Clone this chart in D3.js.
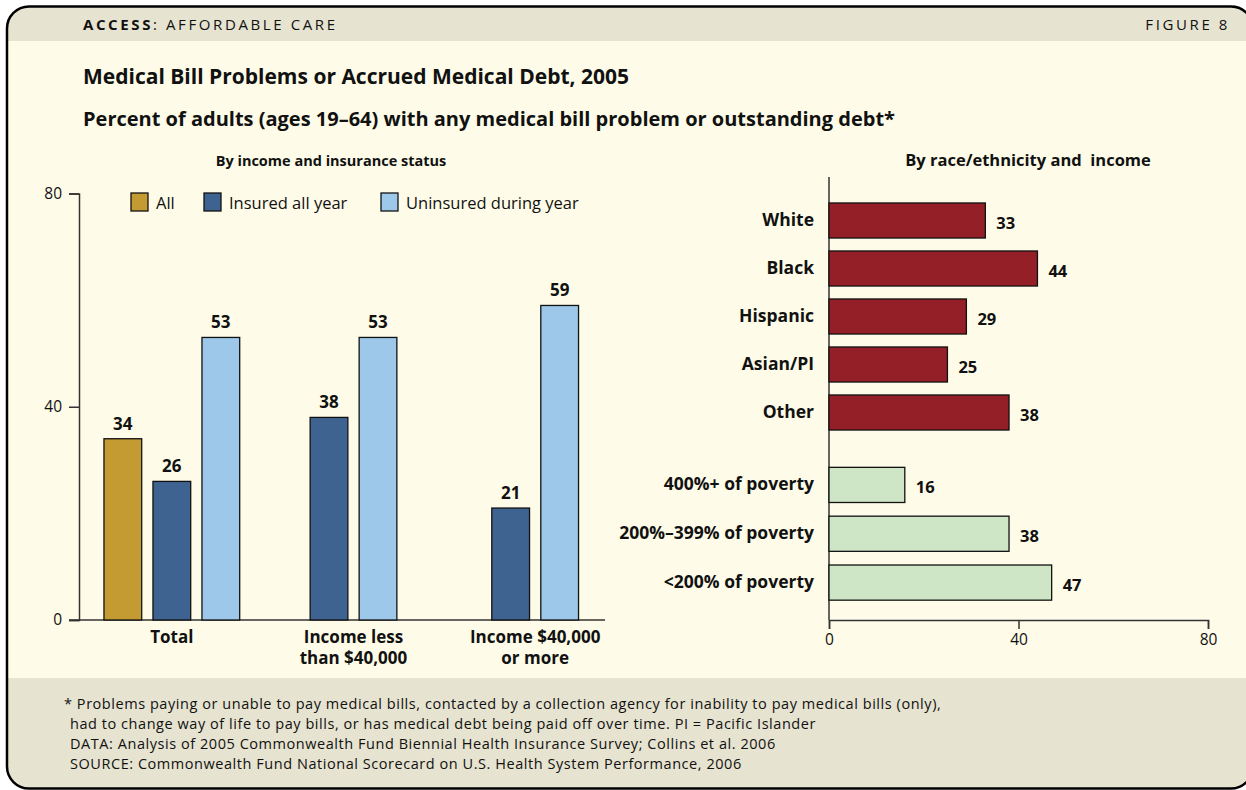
<!DOCTYPE html>
<html lang="en">
<head>
  <meta charset="UTF-8">
  <title>Medical Bill Problems</title>
  <style>
    body, html {
      margin: 0;
      padding: 0;
      background-color: #ffffff;
      overflow: hidden;
    }
    svg text {
      font-family: "Open Sans", Lato, sans-serif;
      fill: #111;
    }
  </style>
</head>
<body>
  <svg id="svg" width="1246" height="790"></svg>
  <script src="https://d3js.org/d3.v7.min.js"></script>
  <script>
    // left panel data
    const groups = ['Total', 'Income less than $40,000', 'Income $40,000 or more']
    const groupLines = [['Total'], ['Income less', 'than $40,000'], ['Income $40,000', 'or more']]
    const seriesNames = ['All', 'Insured all year', 'Uninsured during year']
    const allValues = [34, null, null]
    const insuredValues = [26, 38, 21]
    const uninsuredValues = [53, 53, 59]

    // right panel data
    const raceCats = ['White', 'Black', 'Hispanic', 'Asian/PI', 'Other']
    const raceValues = [33, 44, 29, 25, 38]
    const incomeCats = ['400%+ of poverty', '200%\u2013399% of poverty', '<200% of poverty']
    const incomeValues = [16, 38, 47]

    const yTicks = [0, 40, 80]
    const footnotes = [
      '* Problems paying or unable to pay medical bills, contacted by a collection agency for inability to pay medical bills (only),',
      'had to change way of life to pay bills, or has medical debt being paid off over time. PI = Pacific Islander',
      'DATA: Analysis of 2005 Commonwealth Fund Biennial Health Insurance Survey; Collins et al. 2006',
      'SOURCE: Commonwealth Fund National Scorecard on U.S. Health System Performance, 2006'
    ]

    const colors = ['#c49a32', '#3f6391', '#9dc8ea']
    const svg = d3.select('#svg')

    // frame
    svg.append('defs').append('clipPath').attr('id', 'frame')
      .append('rect').attr('x', 7).attr('y', 6.5).attr('width', 1246).attr('height', 782).attr('rx', 22)
    const frame = svg.append('g').attr('clip-path', 'url(#frame)')
    frame.append('rect').attr('x', 0).attr('y', 0).attr('width', 1260).attr('height', 800).attr('fill', '#fefce8')
    frame.append('rect').attr('x', 0).attr('y', 0).attr('width', 1260).attr('height', 41).attr('fill', '#e6e3d0')
    frame.append('rect').attr('x', 0).attr('y', 678).attr('width', 1260).attr('height', 130).attr('fill', '#e6e3d0')
    svg.append('rect').attr('x', 7).attr('y', 6.5).attr('width', 1246).attr('height', 782).attr('rx', 22)
      .attr('fill', 'none').attr('stroke', '#000').attr('stroke-width', 2.5)

    // header
    const head = svg.append('text').attr('x', 83).attr('y', 30)
      .style('font-size', '15px').style('letter-spacing', '2.6px')
    head.append('tspan').text('ACCESS').style('font-weight', 'bold')
    head.append('tspan').text(': AFFORDABLE CARE')
    svg.append('text').attr('x', 1230).attr('y', 30).attr('text-anchor', 'end')
      .style('font-size', '15px').style('letter-spacing', '2.6px').text('FIGURE 8')

    svg.append('text').attr('x', 83).attr('y', 84)
      .style('font-size', '21px').style('font-weight', 'bold')
      .text('Medical Bill Problems or Accrued Medical Debt, 2005')
    svg.append('text').attr('x', 83).attr('y', 126)
      .style('font-size', '20px').style('font-weight', 'bold')
      .text('Percent of adults (ages 19\u201364) with any medical bill problem or outstanding debt*')

    // ---- left chart ----
    const yScale = d3.scaleLinear().domain([0, 80]).range([620, 193.5])
    const groupScale = d3.scaleBand().domain(groups).range([81, 626])

    svg.append('text').attr('x', 331).attr('y', 166).attr('text-anchor', 'middle')
      .style('font-size', '14.5px').style('font-weight', 'bold').text('By income and insurance status')

    const leftAxis = d3.axisLeft(yScale).tickValues(yTicks).tickSize(10)
    const la = svg.append('g').attr('transform', 'translate(79,0)').call(leftAxis)
    la.selectAll('path, line').attr('stroke', '#333').attr('stroke-width', 1.5)
    la.selectAll('text').style('font-size', '15.5px').attr('x', -17).attr('fill', '#111')

    svg.append('line').attr('x1', 69).attr('x2', 605).attr('y1', 620).attr('y2', 620)
      .attr('stroke', '#333').attr('stroke-width', 1.5)

    const barData = []
    groups.forEach((g, i) => {
      const vals = [allValues[i], insuredValues[i], uninsuredValues[i]]
      const present = seriesNames.filter((s, j) => vals[j] !== null)
      const inner = d3.scaleBand().domain(present)
        .range([-present.length * 24.5, present.length * 24.5]).paddingInner(0.23).paddingOuter(0.115)
      seriesNames.forEach((s, j) => {
        if (vals[j] === null) return
        barData.push({ g, s, v: vals[j], c: colors[j],
          x: groupScale(g) + groupScale.bandwidth() / 2 + inner(s), w: inner.bandwidth() })
      })
    })

    svg.append('g').selectAll('rect').data(barData).enter().append('rect')
      .attr('x', d => d.x)
      .attr('y', d => yScale(d.v))
      .attr('width', d => d.w)
      .attr('height', d => yScale(0) - yScale(d.v))
      .attr('fill', d => d.c)
      .attr('stroke', '#111')
      .attr('stroke-width', 1.3)
    svg.append('g').selectAll('text').data(barData).enter().append('text')
      .attr('x', d => d.x + d.w / 2)
      .attr('y', d => yScale(d.v) - 9)
      .attr('text-anchor', 'middle')
      .style('font-size', '17px').style('font-weight', 'bold')
      .text(d => d3.format('d')(d.v))

    const labelRows = []
    groups.forEach((g, i) => {
      groupLines[i].forEach((line, k) => labelRows.push({ g, line, k }))
    })
    svg.append('g').selectAll('text').data(labelRows).enter().append('text')
      .attr('x', d => groupScale(d.g) + groupScale.bandwidth() / 2)
      .attr('y', d => 643 + d.k * 21)
      .attr('text-anchor', 'middle')
      .style('font-size', '17px').style('font-weight', 'bold')
      .text(d => d.line)

    // legend
    const legendX = [131, 204, 381]
    const legend = svg.append('g').selectAll('g').data(seriesNames).enter().append('g')
      .attr('transform', (d, i) => `translate(${legendX[i]},193)`)
    legend.append('rect').attr('width', 17).attr('height', 18)
      .attr('fill', (d, i) => colors[i]).attr('stroke', '#111').attr('stroke-width', 1.3)
    legend.append('text').attr('x', 25).attr('y', 16).style('font-size', '16.5px').text(d => d)

    // ---- right chart ----
    const xScale = d3.scaleLinear().domain([0, 80]).range([829, 1208])
    const raceScale = d3.scaleBand().domain(raceCats).range([196.5, 436.5]).paddingInner(0.27).paddingOuter(0.135)
    const incomeScale = d3.scaleBand().domain(incomeCats).range([460.5, 607]).paddingInner(0.28).paddingOuter(0.14)

    svg.append('text').attr('x', 1028).attr('y', 166).attr('text-anchor', 'middle')
      .style('font-size', '16.5px').style('font-weight', 'bold').style('white-space', 'pre')
      .text('By race/ethnicity and  income')

    const bottomAxis = d3.axisBottom(xScale).tickValues(yTicks).tickSize(9)
    const ba = svg.append('g').attr('transform', 'translate(0,620)').call(bottomAxis)
    ba.selectAll('path, line').attr('stroke', '#333').attr('stroke-width', 1.5)
    ba.selectAll('text').style('font-size', '15.5px').attr('y', 14).attr('fill', '#111')

    svg.append('line').attr('x1', 829).attr('x2', 829).attr('y1', 177).attr('y2', 620)
      .attr('stroke', '#333').attr('stroke-width', 1.5)

    function hbars(cats, vals, band, fill) {
      const rows = cats.map((c, i) => ({ c, v: vals[i] }))
      const g = svg.append('g')
      g.selectAll('rect').data(rows).enter().append('rect')
        .attr('x', xScale(0))
        .attr('y', d => band(d.c))
        .attr('width', d => xScale(d.v) - xScale(0))
        .attr('height', band.bandwidth())
        .attr('fill', fill)
        .attr('stroke', '#111')
        .attr('stroke-width', 1.3)
      g.selectAll('.val').data(rows).enter().append('text')
        .attr('x', d => xScale(d.v) + 11)
        .attr('y', d => band(d.c) + band.bandwidth() / 2 + 8)
        .style('font-size', '16.5px').style('font-weight', 'bold')
        .text(d => d.v)
      g.selectAll('.cat').data(rows).enter().append('text')
        .attr('x', 814)
        .attr('y', d => band(d.c) + band.bandwidth() / 2 + 5)
        .attr('text-anchor', 'end')
        .style('font-size', '17.5px').style('font-weight', 'bold')
        .text(d => d.c)
    }
    hbars(raceCats, raceValues, raceScale, '#951f26')
    hbars(incomeCats, incomeValues, incomeScale, '#cee5c6')

    // footnotes
    svg.append('g').selectAll('text').data(footnotes).enter().append('text')
      .attr('x', (d, i) => i === 0 ? 64 : 70)
      .attr('y', (d, i) => 709 + i * 20)
      .style('font-size', '14.5px').style('letter-spacing', '0.55px')
      .text(d => d)
  </script>
</body>
</html>
